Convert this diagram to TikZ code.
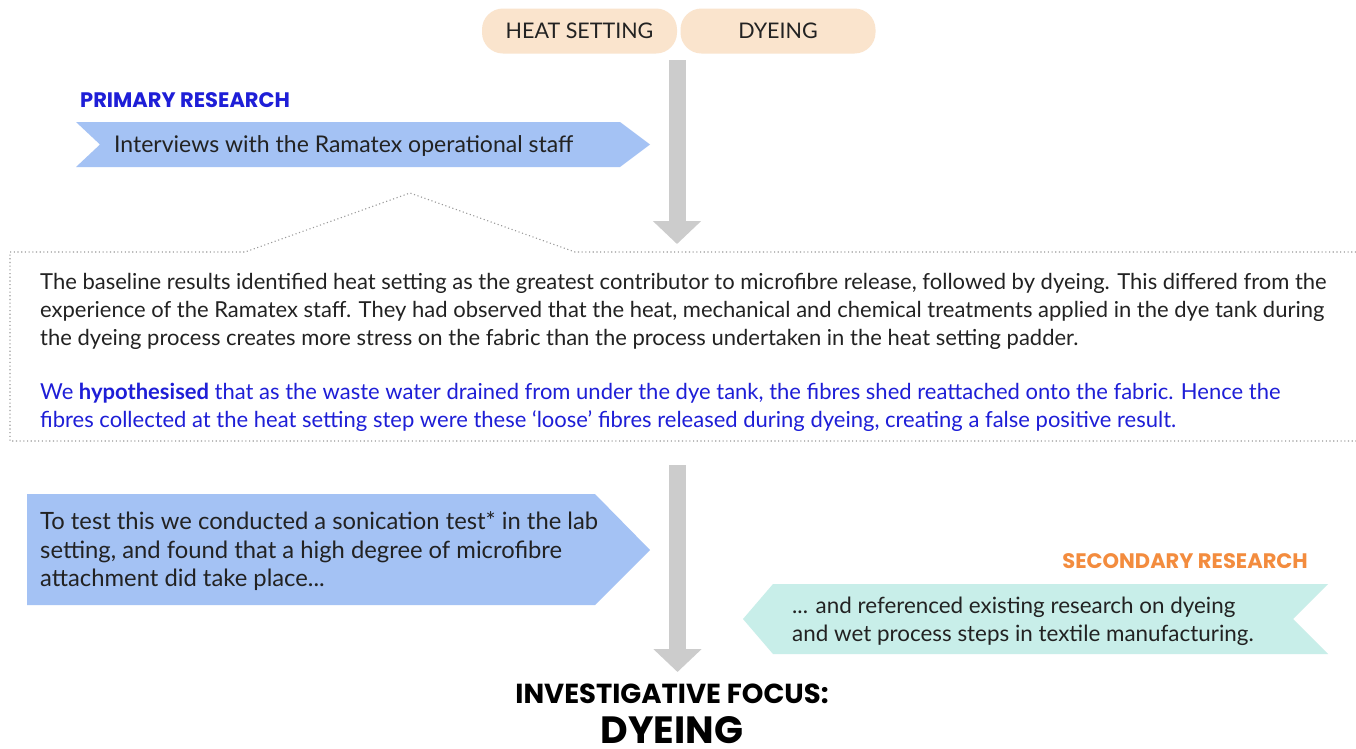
\documentclass[tikz,border=0pt]{standalone}
\usepackage{fontspec}
\setmainfont{Lato}
\newfontfamily\headfont{Poppins}
\usetikzlibrary{arrows.meta}
\definecolor{peach}{RGB}{250,228,205}
\definecolor{chevblue}{RGB}{164,194,244}
\definecolor{chevteal}{RGB}{200,238,233}
\definecolor{arrowgray}{RGB}{204,204,204}
\definecolor{txtblue}{RGB}{30,30,215}
\definecolor{txtorange}{RGB}{243,140,62}
\definecolor{txtdark}{RGB}{34,34,34}
\tikzset{
  pill/.style={fill=peach, rounded corners=21pt, minimum width=195pt, minimum height=45pt, inner sep=0pt, text=txtdark, font=\fontsize{21.5}{24}\selectfont},
  bodytext/.style={anchor=west, align=left, inner sep=0pt, text=txtdark, font=\fontsize{22}{28}\selectfont},
  heading/.style={inner sep=0pt, anchor=base, text depth=0pt, font=\headfont\bfseries\fontsize{21}{24}\selectfont},
  bigarrow/.style={draw=arrowgray, line width=17pt, -{Triangle[width=47pt,length=23pt]}},
  frame/.style={draw=black!40, line width=1.1pt, dash pattern=on 1.1pt off 2.6pt}
}
\begin{document}
\begin{tikzpicture}[x=1pt,y=-1pt]
\useasboundingbox[fill=white] (0,0) rectangle (1356,748);
% pills
\node[pill] (heat) at (579.5,31) {HEAT SETTING};
\node[pill] (dye) at (778,31) {DYEING};
% arrow 1
\coordinate (a1s) at (677,60);
\coordinate (a1e) at (677,244);
\draw[bigarrow] (a1s) -- (a1e);
% primary research
\node[heading, text=txtblue, anchor=base west] (prim) at (80,107) {PRIMARY RESEARCH};
\fill[chevblue] (76,122) -- (620,122) -- (650,144.5) -- (620,167) -- (76,167) -- (100,144.5) -- cycle;
\node[bodytext, font=\fontsize{23}{28}\selectfont] (interv) at (114,145.5) {Interviews with the Ramatex operational staff};
% dotted frame
\draw[frame] (1356,252) -- (575,252) -- (410,193) -- (245,252) -- (10,252) -- (10,441) -- (1356,441);
\node[bodytext] (base) at (40,311) {The baseline results identified heat setting as the greatest contributor to microfibre release, followed by dyeing. This differed from the\\
experience of the Ramatex staff. They had observed that the heat, mechanical and chemical treatments applied in the dye tank during\\
the dyeing process creates more stress on the fabric than the process undertaken in the heat setting padder.};
\node[bodytext, text=txtblue] (hyp) at (40,407) {We \textbf{hypothesised} that as the waste water drained from under the dye tank, the fibres shed reattached onto the fabric. Hence the\\
fibres collected at the heat setting step were these ‘loose’ fibres released during dyeing, creating a false positive result.};
% arrow 2
\coordinate (a2s) at (677.5,465);
\coordinate (a2e) at (677.5,672);
\draw[bigarrow] (a2s) -- (a2e);
% test box
\fill[chevblue] (27,494) -- (595,494) -- (650,550) -- (595,605) -- (27,605) -- cycle;
\node[bodytext, font=\fontsize{23.8}{28.5}\selectfont] (test) at (40,551.5) {To test this we conducted a sonication test* in the lab\\
setting, and found that a high degree of microfibre\\
attachment did take place...};
% secondary research
\node[heading, text=txtorange, anchor=base east] (sec) at (1308,568) {SECONDARY RESEARCH};
\fill[chevteal] (773,584) -- (1328,584) -- (1293,619) -- (1328,654) -- (773,654) -- (743,619) -- cycle;
\node[bodytext, font=\fontsize{22.4}{28}\selectfont] (ref) at (792,621) {... and referenced existing research on dyeing\\
and wet process steps in textile manufacturing.};
% focus
\node[heading, text=black, font=\headfont\bfseries\fontsize{27.5}{30}\selectfont] (focus) at (672,703) {INVESTIGATIVE FOCUS:};
\node[heading, text=black, font=\headfont\bfseries\fontsize{38}{40}\selectfont] (dyeing) at (672,743) {DYEING};
\end{tikzpicture}
\end{document}
